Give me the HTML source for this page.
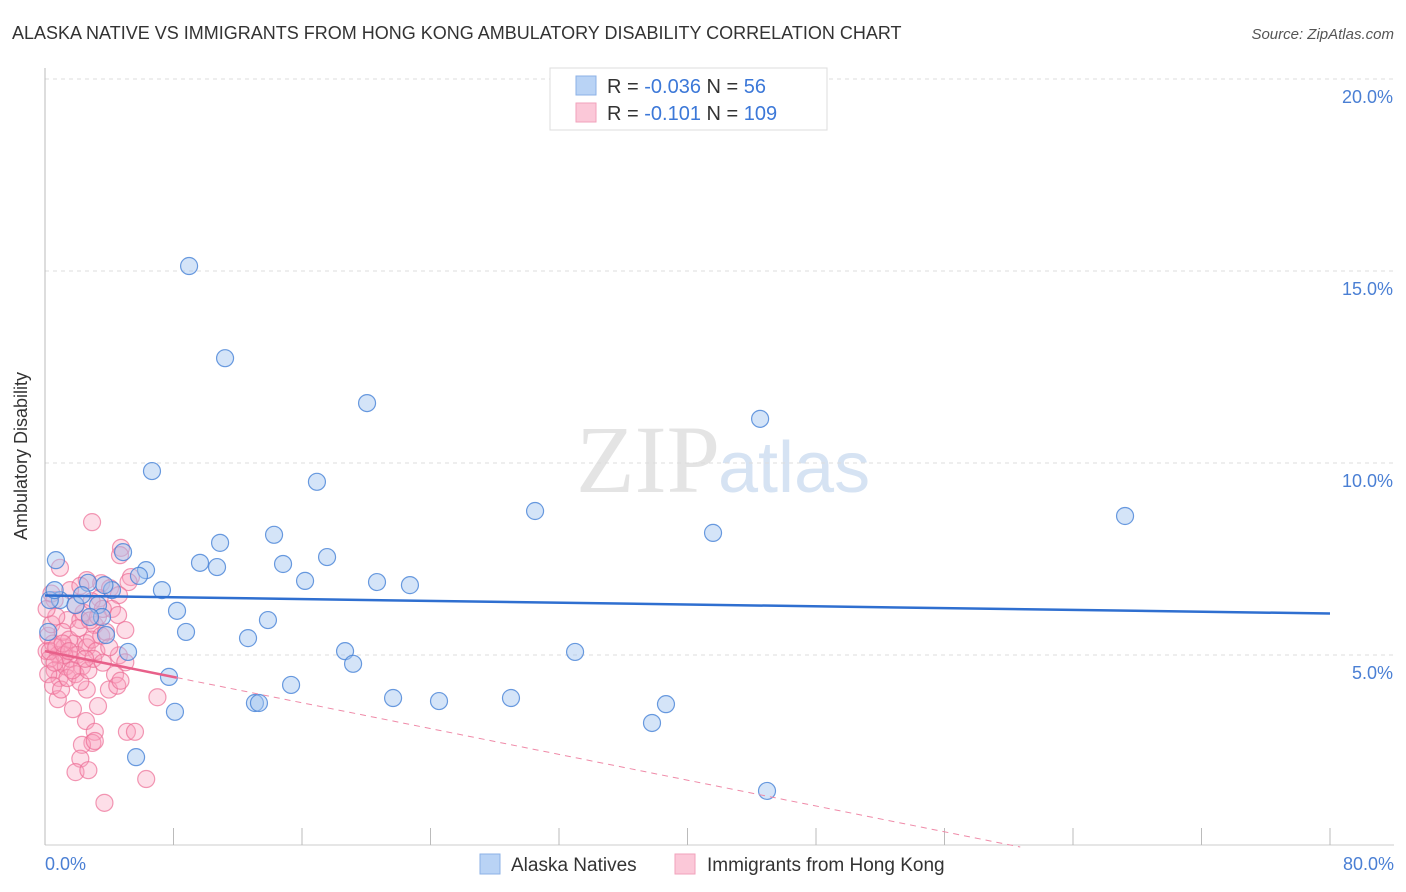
<!DOCTYPE html>
<html><head><meta charset="utf-8"><style>
body{margin:0;background:#fff;font-family:"Liberation Sans",sans-serif;}
svg{display:block}
</style></head><body>
<svg width="1406" height="892" viewBox="0 0 1406 892">
<text x="12" y="39" font-size="18" fill="#333">ALASKA NATIVE VS IMMIGRANTS FROM HONG KONG AMBULATORY DISABILITY CORRELATION CHART</text>
<text x="1394" y="39" font-size="15" fill="#555" font-style="italic" text-anchor="end">Source: ZipAtlas.com</text>
<text x="720" y="492" font-size="96" fill="#e4e4e4" text-anchor="end" font-family="Liberation Serif,serif">ZIP</text>
<text x="718" y="492" font-size="72" fill="#d6e3f3">atlas</text>
<g id="grid"></g>
<g id="axes"></g>
<g id="pts"></g>
<g id="trends"></g>
<text x="27" y="456" font-size="18" fill="#333" text-anchor="middle" transform="rotate(-90 27 456)">Ambulatory Disability</text>
<text x="45" y="870" font-size="18" fill="#4a7fd4">0.0%</text>
<text x="1394" y="870" font-size="18" fill="#4a7fd4" text-anchor="end">80.0%</text>
<g>
<rect x="550" y="68" width="277" height="62" fill="#fff" stroke="#ddd"/>
<rect x="576" y="76" width="20" height="19" fill="#b9d3f5" stroke="#8cb2e6"/>
<rect x="576" y="103" width="20" height="19" fill="#fbc8d8" stroke="#f2a2bb"/>
<text x="607" y="93" font-size="20" fill="#333">R = <tspan fill="#3c78d8">-0.036</tspan>   N = <tspan fill="#3c78d8">  56</tspan></text>
<text x="607" y="120" font-size="20" fill="#333">R = <tspan fill="#3c78d8"> -0.101</tspan>   N = <tspan fill="#3c78d8">109</tspan></text>
</g>
<g>
<rect x="480" y="854" width="20" height="20" fill="#b9d3f5" stroke="#8cb2e6"/>
<text x="511" y="871" font-size="19" fill="#333">Alaska Natives</text>
<rect x="675" y="854" width="20" height="20" fill="#fbc8d8" stroke="#f2a2bb"/>
<text x="707" y="871" font-size="19" fill="#333">Immigrants from Hong Kong</text>
</g>
</svg>
<script>
const yTicks=[5,10,15,20];
const yTickLabels=["5.0%","10.0%","15.0%","20.0%"];
const xTicks=[0,8,16,24,32,40,48,56,64,72,80];
const blueX=[8.97,11.21,20.05,44.52,6.66,16.93,30.51,67.24,41.59,14.26,10.90,17.56,4.86,0.68,14.82,9.65,10.71,6.29,5.85,2.68,4.17,7.28,16.19,20.67,22.72,0.93,3.30,8.22,3.55,13.88,8.78,3.80,12.64,18.68,5.17,33.00,19.18,7.72,15.32,21.67,13.07,13.32,24.53,29.01,38.66,8.09,37.79,5.67,44.95,0.3,0.6,1.9,2.3,2.8,3.7,0.2];
const blueY=[15.13,12.73,11.56,11.15,9.79,9.51,8.75,8.62,8.18,8.13,7.92,7.55,7.68,7.47,7.37,7.40,7.29,7.21,7.06,6.88,6.69,6.69,6.93,6.90,6.82,6.43,6.30,6.15,5.99,5.91,5.60,5.52,5.44,5.10,5.08,5.08,4.77,4.43,4.22,3.88,3.75,3.75,3.80,3.88,3.72,3.52,3.23,2.34,1.46,6.43,6.69,6.3,6.56,5.99,6.82,5.6];
const pinkX=[2.93,4.73,4.67,0.93,5.35,5.2,2.6,3.5,4.05,3.4,1.56,4.6,4.17,0.6,1.4,2.2,3.1,4.55,5.0,2.55,4.6,5.0,0.1,4.36,3.98,2.6,0.8,1.74,3.3,7.0,4.5,4.7,2.55,3.1,2.95,2.3,3.1,5.1,5.6,2.2,1.9,2.7,3.7,6.3,0.2,0.5,0.8,1.0,1.2,0.3,0.6,0.9,1.3,1.6,1.8,2.0,2.3,2.6,2.9,3.2,3.5,0.4,0.7,1.1,1.5,2.1,2.4,2.8,3.3,3.8,0.2,0.5,1.0,1.4,1.9,2.2,2.7,3.0,3.6,4.0,0.3,0.7,1.2,1.7,2.5,0.1,0.4,1.9,2.2,2.9,3.6,0.6,1.1,1.5];
const pinkY=[8.46,7.79,7.6,7.27,7.03,6.9,6.95,6.87,6.74,6.48,6.69,6.56,6.2,6.43,5.91,5.91,5.78,6.04,5.65,5.31,4.99,4.81,5.1,4.49,4.1,4.1,3.85,3.59,3.67,3.9,4.2,4.33,3.28,3.0,2.71,2.66,2.76,3.0,3.0,2.3,1.95,2.0,1.15,1.77,5.5,5.3,5.0,4.8,5.2,4.9,4.6,4.4,4.7,4.9,5.3,5.0,4.7,5.2,5.4,5.1,5.5,5.8,6.0,5.6,5.4,5.7,6.1,5.9,6.0,5.6,4.5,4.2,4.1,4.4,4.5,4.3,4.6,4.9,4.8,5.2,5.1,5.2,5.0,4.6,4.9,6.2,6.6,6.3,6.8,6.4,6.2,4.8,5.3,5.1];
const blueTrend=[6.55,6.08];
const pinkTrend=[5.1,-0.084];
const NS="http://www.w3.org/2000/svg";
const X=v=>45+v/80*1285, Y=v=>847-v*38.4;
function mk(t,a,p){const e=document.createElementNS(NS,t);for(const k in a)e.setAttribute(k,a[k]);p.appendChild(e);return e;}
const grid=document.getElementById('grid'),axes=document.getElementById('axes'),pts=document.getElementById('pts'),tr=document.getElementById('trends');
yTicks.forEach((v,i)=>{
 const l=mk('line',{x1:45,x2:1394,y1:Y(v),y2:Y(v),stroke:'#ddd','stroke-dasharray':'4,4'},grid);
 
 
 const t=mk('text',{x:1393,y:Y(v)+24,'font-size':18,fill:'#4a7fd4','text-anchor':'end'},grid);
 t.textContent=yTickLabels[i];
 
 
});
const ax=mk('line',{x1:45,x2:45,y1:68,y2:845,stroke:'#bbb'},axes);


const bx=mk('line',{x1:45,x2:1394,y1:845,y2:845,stroke:'#ccc'},axes);


xTicks.forEach(v=>{
 const l=mk('line',{x1:X(v),x2:X(v),y1:828,y2:845,stroke:'#bbb'},axes);
 
 
});
pinkX.forEach((v,i)=>{
 const c=mk('circle',{cx:X(v),cy:Y(pinkY[i]),r:8.5,fill:'rgba(248,160,188,0.35)',stroke:'rgba(236,110,150,0.7)','stroke-width':1.2},pts);
 
 
});
blueX.forEach((v,i)=>{
 const c=mk('circle',{cx:X(v),cy:Y(blueY[i]),r:8.5,fill:'rgba(160,195,240,0.45)',stroke:'rgba(70,130,215,0.8)','stroke-width':1.2},pts);
 
 
});
const bl=mk('line',{x1:X(0),y1:Y(blueTrend[0]),x2:X(80),y2:Y(blueTrend[1]),stroke:'#2f6fd0','stroke-width':2.5},tr);


const pEnd=-pinkTrend[0]/pinkTrend[1];
const pd=mk('line',{x1:X(8.2),y1:Y(pinkTrend[0]+pinkTrend[1]*8.2),x2:X(pEnd),y2:Y(0),stroke:'#ef8aa8','stroke-width':1,'stroke-dasharray':'6,5'},tr);


const ps=mk('line',{x1:X(0),y1:Y(pinkTrend[0]),x2:X(8.2),y2:Y(pinkTrend[0]+pinkTrend[1]*8.2),stroke:'#e8608a','stroke-width':2.5},tr);


</script>
</body></html>
